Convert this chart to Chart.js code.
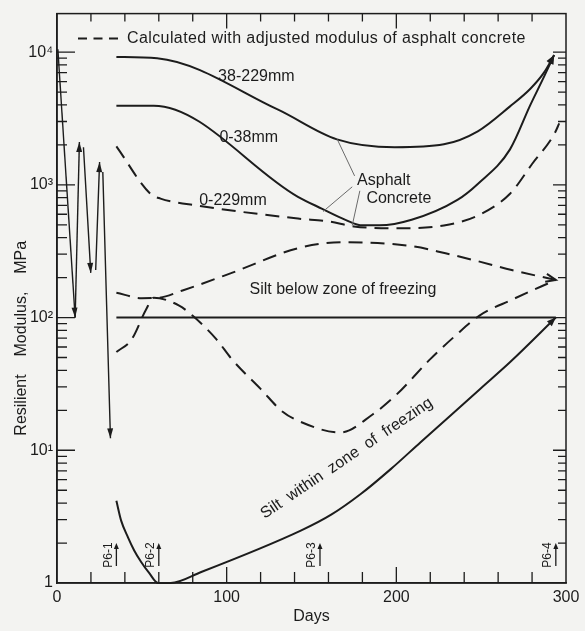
<!DOCTYPE html>
<html>
<head>
<meta charset="utf-8">
<title>Resilient modulus vs days</title>
<script src="https://cdn.jsdelivr.net/npm/chart.js@4.4.1/dist/chart.umd.min.js"></script>
<style>
  html, body { margin: 0; padding: 0; background: #f3f3f1; }
  #wrap { width: 585px; height: 631px; }
</style>
</head>
<body>
<div id="wrap"><canvas id="modulusChart" width="585" height="631"></canvas></div>
<script>
// values (day, resilient modulus in MPa)
const days38to229 = [35, 59, 130, 165, 199, 228, 248, 267, 279, 287, 293];
const mod38to229 = [9200, 9000, 3700, 2200, 1920, 2020, 2530, 3900, 5300, 7000, 9500];

const days0to38 = [35, 57, 142, 156, 170, 180, 190, 209, 236, 248, 267, 279, 287, 293];
const mod0to38 = [3950, 3950, 813, 662, 545, 495, 495, 545, 770, 1016, 1850, 4000, 6500, 9500];

const days0to229 = [35, 55, 61, 83, 142, 160, 175, 201, 228, 248, 267, 280, 293, 296];
const mod0to229 = [1950, 857, 787, 697, 557, 530, 486, 470, 494, 587, 857, 1435, 2400, 2900];

const daysSiltBelowCalc = [35, 50, 60, 74, 103, 142, 168, 209, 229, 248, 268, 294];
const modSiltBelowCalc = [154, 140, 141, 160, 217, 333, 369, 345, 305, 266, 228, 192];

const daysSiltWithinCalc = [35, 44, 52.5, 57, 72, 80, 94, 103, 120, 133, 143, 167, 186, 200, 220, 235, 249, 268, 294];
const modSiltWithinCalc = [55, 68.5, 115, 141, 123, 103, 68.5, 48.6, 29, 19.5, 16.5, 13.6, 18.6, 26.2, 48.6, 73.4, 103.5, 136, 192];

const daysSiltBelow = [35, 294];
const modSiltBelow = [100, 100];

const daysSiltWithin = [35, 37.8, 41.9, 45.5, 49.6, 54.3, 59.6, 67, 85, 144, 161.6, 179.2, 196.7, 214.3, 231.8, 249.4, 267.1, 294];
const modSiltWithin = [4.16, 2.95, 2.2, 1.76, 1.44, 1.19, 1.0, 1.0, 1.21, 2.49, 3.27, 4.7, 7.21, 11.5, 18.2, 29, 46.2, 100];

// early spring trace (freeze / thaw swings), one pair per arrow
const swingDays = [[0.5, 10.7], [10.7, 13.2], [15.6, 19.9], [22.8, 25.1], [27, 31.5]];
const swingMod = [[10500, 100], [100, 2100], [1920, 217], [228, 1485], [1250, 12.3]];

// sampling dates
const sampleLabels = ['P6-1', 'P6-2', 'P6-3', 'P6-4'];
const sampleDays = [35, 60, 155, 294];

const yTickValues = [1, 10, 100, 1000, 10000];
const yTickLabels = ['1', '10\u00b9', '10\u00b2', '10\u00b3', '10\u2074'];
const xTickLabels = ['0', '100', '200', '300'];

const ink = '#1c1c1c';
const font = '"Liberation Sans", Arial, sans-serif';

function pts(xs, ys) {
    return xs.map((d, i) => ({ x: d, y: ys[i] }));
}

function curve(label, xs, ys, dashed, arrow) {
    return {
        label: label,
        data: pts(xs, ys),
        borderColor: ink,
        borderWidth: 2,
        borderDash: dashed ? [14, 8] : [],
        pointRadius: 0,
        fill: false,
        cubicInterpolationMode: 'monotone',
        clip: false,
        arrow: arrow || null
    };
}

const datasets = [
    curve('38-229mm', days38to229, mod38to229, false, 'filled'),
    curve('0-38mm', days0to38, mod0to38, false, 'filled'),
    curve('0-229mm calculated', days0to229, mod0to229, true),
    curve('Silt below zone of freezing calculated', daysSiltBelowCalc, modSiltBelowCalc, true, 'open'),
    curve('Silt within zone of freezing calculated', daysSiltWithinCalc, modSiltWithinCalc, true),
    curve('Silt below zone of freezing', daysSiltBelow, modSiltBelow, false),
    curve('Silt within zone of freezing', daysSiltWithin, modSiltWithin, false, 'filled')
];
swingDays.forEach((d, i) => {
    const ds = curve('swing ' + (i + 1), d, swingMod[i], false, 'thin');
    ds.borderWidth = 1.4;
    datasets.push(ds);
});

function drawHead(ctx, p0, p1, len, half, open) {
    const ang = Math.atan2(p1.y - p0.y, p1.x - p0.x);
    const bx = p1.x - len * Math.cos(ang), by = p1.y - len * Math.sin(ang);
    const nx = -Math.sin(ang) * half, ny = Math.cos(ang) * half;
    ctx.beginPath();
    ctx.moveTo(bx + nx, by + ny);
    ctx.lineTo(p1.x, p1.y);
    ctx.lineTo(bx - nx, by - ny);
    if (open) {
        ctx.stroke();
    } else {
        ctx.closePath();
        ctx.fill();
    }
}

// arrow heads at the end of the marked curves
const arrowHeads = {
    id: 'arrowHeads',
    afterDatasetsDraw(chart) {
        const ctx = chart.ctx;
        ctx.save();
        ctx.fillStyle = ink;
        ctx.strokeStyle = ink;
        ctx.lineWidth = 2;
        ctx.setLineDash([]);
        chart.data.datasets.forEach((ds, i) => {
            if (!ds.arrow) return;
            const pts = chart.getDatasetMeta(i).data;
            const p1 = pts[pts.length - 1], p0 = pts[pts.length - 2];
            if (ds.arrow === 'thin') drawHead(ctx, p0, p1, 10, 3, false);
            else if (ds.arrow === 'open') drawHead(ctx, p0, p1, 10, 4, true);
            else drawHead(ctx, p0, p1, 9, 3.5, false);
        });
        ctx.restore();
    }
};

// closed frame with inward tick marks on all four sides
const frameTicks = {
    id: 'frameTicks',
    afterDraw(chart) {
        const { ctx, chartArea: a, scales: { x, y } } = chart;
        ctx.save();
        ctx.strokeStyle = ink;
        ctx.lineWidth = 1.5;
        ctx.strokeRect(a.left, a.top, a.right - a.left, a.bottom - a.top);
        ctx.lineWidth = 1.3;
        ctx.beginPath();
        yTickValues.forEach(dec => {
            for (let m = 1; m <= 9; m++) {
                const v = dec * m;
                if (v > y.max) break;
                const py = y.getPixelForValue(v);
                const major = m === 1;
                if (v === 1) continue;
                ctx.moveTo(a.left, py); ctx.lineTo(a.left + (major ? 18 : 10), py);
                ctx.moveTo(a.right, py); ctx.lineTo(a.right - (major ? 13 : 8), py);
            }
        });
        for (let d = 20; d < 300; d += 20) {
            const px = x.getPixelForValue(d);
            const major = d % 100 === 0;
            ctx.moveTo(px, a.bottom); ctx.lineTo(px, a.bottom - (major ? 16 : 11));
            ctx.moveTo(px, a.top); ctx.lineTo(px, a.top + (major ? 15 : 8));
        }
        ctx.stroke();
        ctx.restore();
    }
};

// labels, leader lines, legend and sampling marks
const notes = {
    id: 'notes',
    afterDatasetsDraw(chart) {
        const { ctx, chartArea: a, scales: { x, y } } = chart;
        const P = (d, v) => ({ x: x.getPixelForValue(d), y: y.getPixelForValue(v) });
        ctx.save();
        ctx.fillStyle = ink;
        ctx.strokeStyle = ink;
        ctx.textBaseline = 'middle';
        ctx.font = '16px ' + font;

        // legend
        ctx.lineWidth = 2;
        ctx.setLineDash([9, 6.5]);
        ctx.beginPath();
        ctx.moveTo(a.left + 21, a.top + 25);
        ctx.lineTo(a.left + 61, a.top + 25);
        ctx.stroke();
        ctx.setLineDash([]);
        ctx.textAlign = 'left';
        ctx.letterSpacing = '0.4px';
        ctx.fillText('Calculated with adjusted modulus of asphalt concrete', a.left + 70, a.top + 25);
        ctx.letterSpacing = '0px';

        ctx.textAlign = 'center';
        const labels = [
            ['38-229mm', 117.5, 6500],
            ['0-38mm', 113, 2280],
            ['0-229mm', 103.7, 760],
            ['Asphalt', 192.6, 1070],
            ['Concrete', 201.5, 787],
            ['Silt below zone of freezing', 168.5, 162]
        ];
        labels.forEach(([t, d, v]) => {
            const p = P(d, v);
            ctx.fillText(t, p.x, p.y);
        });

        // leader lines from "Asphalt Concrete"
        ctx.strokeStyle = '#6a6a6a';
        ctx.lineWidth = 1;
        [[175.4, 1167, 165.2, 2200], [174, 966, 156.8, 629], [178.5, 902, 174, 494]].forEach(([d0, v0, d1, v1]) => {
            const p0 = P(d0, v0), p1 = P(d1, v1);
            ctx.beginPath();
            ctx.moveTo(p0.x, p0.y);
            ctx.lineTo(p1.x, p1.y);
            ctx.stroke();
        });

        // label running along the curve
        const c = P(170.7, 8.7);
        ctx.save();
        ctx.translate(c.x, c.y);
        ctx.rotate(-34 * Math.PI / 180);
        ctx.fillText('Silt  within  zone  of  freezing', 0, 0);
        ctx.restore();

        // sampling dates
        ctx.strokeStyle = ink;
        ctx.lineWidth = 1.3;
        ctx.font = '12px ' + font;
        sampleDays.forEach((d, i) => {
            const px = x.getPixelForValue(d);
            ctx.beginPath();
            ctx.moveTo(px, a.bottom - 17);
            ctx.lineTo(px, a.bottom - 36);
            ctx.stroke();
            drawHead(ctx, { x: px, y: a.bottom - 30 }, { x: px, y: a.bottom - 40 }, 6, 2.5, false);
            ctx.save();
            ctx.translate(px - 8, a.bottom - 28);
            ctx.rotate(-Math.PI / 2);
            ctx.fillText(sampleLabels[i], 0, 0);
            ctx.restore();
        });
        ctx.restore();
    }
};

new Chart(document.getElementById('modulusChart'), {
    type: 'line',
    data: { datasets: datasets },
    options: {
        responsive: false,
        animation: false,
        layout: { padding: { top: 8, right: 19, left: 0, bottom: 0 } },
        plugins: {
            legend: { display: false },
            tooltip: { enabled: false }
        },
        scales: {
            x: {
                type: 'linear',
                min: 0,
                max: 300,
                afterFit: scale => { scale.height = 48; },
                grid: { drawOnChartArea: false, drawTicks: false },
                border: { display: true, color: ink, width: 1.5 },
                ticks: {
                    stepSize: 20,
                    autoSkip: false,
                    maxRotation: 0,
                    padding: 5,
                    color: ink,
                    font: { family: font, size: 16 },
                    callback: v => (v % 100 === 0 ? xTickLabels[v / 100] : '')
                },
                title: {
                    display: true,
                    text: 'Days',
                    color: ink,
                    font: { family: font, size: 16 },
                    padding: { top: 0, bottom: 5 }
                }
            },
            y: {
                type: 'logarithmic',
                min: 1,
                max: 19500,
                afterFit: scale => { scale.width = 57; },
                grid: { drawOnChartArea: false, drawTicks: false },
                border: { display: true, color: ink, width: 1.5 },
                ticks: {
                    autoSkip: false,
                    padding: 4,
                    color: ink,
                    font: { family: font, size: 16 },
                    callback: v => {
                        const i = yTickValues.indexOf(v);
                        return i >= 0 ? yTickLabels[i] : '';
                    }
                },
                title: {
                    display: true,
                    text: 'Resilient    Modulus,    MPa' + '\u00a0'.repeat(18),
                    color: ink,
                    font: { family: font, size: 16 },
                    padding: { top: 12, bottom: 0 }
                }
            }
        }
    },
    plugins: [arrowHeads, frameTicks, notes]
});
</script>
</body>
</html>
